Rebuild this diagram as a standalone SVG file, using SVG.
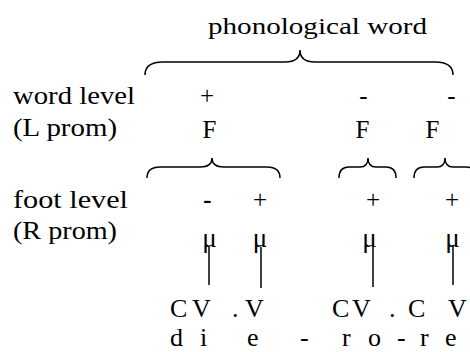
<svg xmlns="http://www.w3.org/2000/svg" width="470" height="352" viewBox="0 0 470 352" font-family="Liberation Serif, Times New Roman, serif">
<rect width="470" height="352" fill="#fff"/>
<g id="title"><text font-family="serif" font-size="24" x="208" y="34" textLength="219" lengthAdjust="spacingAndGlyphs">phonological word</text></g>
<g id="labels">
<text font-family="serif" font-size="25" x="13" y="104" textLength="122" lengthAdjust="spacingAndGlyphs">word level</text>
<text font-family="serif" font-size="25" x="13" y="136" textLength="104" lengthAdjust="spacingAndGlyphs">(L prom)</text>
<text font-family="serif" font-size="25" x="13" y="208" textLength="115" lengthAdjust="spacingAndGlyphs">foot level</text>
<text font-family="serif" font-size="25" x="13" y="239" textLength="104" lengthAdjust="spacingAndGlyphs">(R prom)</text>
</g>
<g id="word-level">
<text font-family="serif" font-size="25" text-anchor="middle" x="207" y="104">+</text>
<text font-family="serif" font-size="25" text-anchor="middle" x="363.5" y="104">-</text>
<text font-family="serif" font-size="25" text-anchor="middle" x="451.5" y="104">-</text>
</g>
<g id="feet">
<text font-family="serif" font-size="25" text-anchor="middle" x="209.5" y="138">F</text>
<text font-family="serif" font-size="25" text-anchor="middle" x="362.5" y="138">F</text>
<text font-family="serif" font-size="25" text-anchor="middle" x="432.5" y="138">F</text>
</g>
<g id="foot-level">
<text font-family="serif" font-size="25" text-anchor="middle" font-weight="bold" x="207.5" y="208">-</text>
<text font-family="serif" font-size="25" text-anchor="middle" x="260" y="208">+</text>
<text font-family="serif" font-size="25" text-anchor="middle" x="373" y="208">+</text>
<text font-family="serif" font-size="25" text-anchor="middle" x="452" y="208">+</text>
</g>
<g id="moras">
<text font-family="serif" font-size="27" text-anchor="middle" x="209.5" y="247">&#956;</text>
<text font-family="serif" font-size="27" text-anchor="middle" x="260" y="247">&#956;</text>
<text font-family="serif" font-size="27" text-anchor="middle" x="369.5" y="247">&#956;</text>
<text font-family="serif" font-size="27" text-anchor="middle" x="452.5" y="247">&#956;</text>
</g>
<g id="cv"><text font-family="serif" font-size="26" x="170 187 192 212 232 238 245 300 332 349 352 372 389 400 408 430 448" y="317">C V . V C V . C V</text></g>
<g id="segments"><text font-family="serif" font-size="26" x="170 187 200 212 247 270 300 320 342 360 368 390 397 410 420 435 445" y="346">d i e - r o - r e</text></g>
<g id="connectors" fill="none" stroke="#000" stroke-width="1.5">
<path d="M145,75 Q145,62 163,62 L285,62 Q300,62 300,50 Q300,62 315,62 L435,62 Q453,62 453,75"/>
<path d="M147,178 Q147,167 160,167 L200,167 Q212,167 212,158 Q212,167 224,167 L267,167 Q280,167 280,178"/>
<path d="M339,178 Q339,167 349,167 L360,167 Q368,167 368,158 Q368,167 376,167 L386,167 Q396,167 396,178"/>
<path d="M414,178 Q414,167 424,167 L437,167 Q445,167 445,158 Q445,167 453,167 L466,167 Q476,167 476,178"/>
<line x1="209" y1="247" x2="209" y2="285"/>
<line x1="261" y1="247" x2="261" y2="288"/>
<line x1="373" y1="245" x2="373" y2="287"/>
<line x1="453" y1="245" x2="453" y2="285"/>
</g>
</svg>
